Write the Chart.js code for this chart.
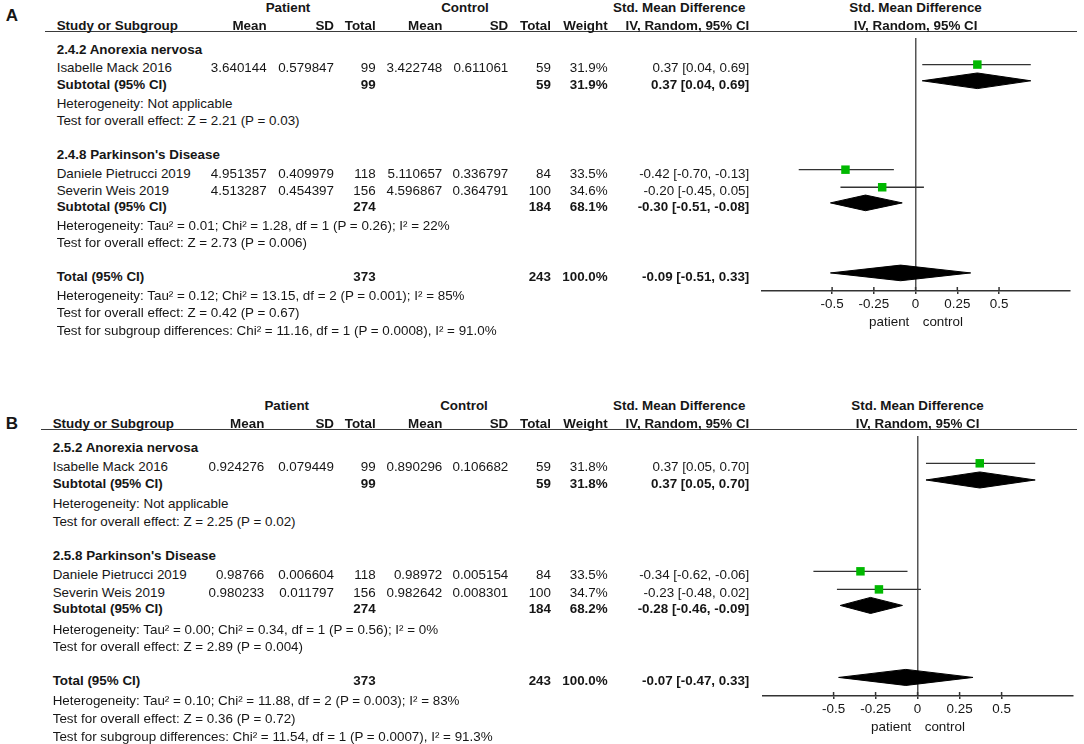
<!DOCTYPE html>
<html>
<head>
<meta charset="utf-8">
<script src="https://cdn.jsdelivr.net/npm/chart.js@4.4.0/dist/chart.umd.min.js"></script>
<style>
  html, body { margin: 0; padding: 0; background: #fff; }
  #page { position: relative; width: 1084px; height: 744px; overflow: hidden;
          font-family: 'Liberation Sans', Arial, sans-serif; color: #161616; }
  .t { position: absolute; white-space: pre; font-size: 13.4px; line-height: 16px; }
  .b { font-weight: bold; }
  .letter { font-size: 17px; font-weight: bold; line-height: 20px; }
  .rule { position: absolute; height: 0; border-top: 1.6px solid #3a3a3a; }
  canvas { position: absolute; }
</style>
</head>
<body>
<div id="page"></div>
<script>
// ---- data ----
var studyNames = ['Isabelle Mack 2016', 'Daniele Pietrucci 2019', 'Severin Weis 2019'];
var patientN = [99, 118, 156];
var controlN = [59, 84, 100];
var subPatientN = [99, 274];
var subControlN = [59, 184];
var totalPatientN = 373;
var totalControlN = 243;
var tickValues = [-0.5, -0.25, 0, 0.25, 0.5];

// panel A
var groupTitlesA = ['2.4.2 Anorexia nervosa', "2.4.8 Parkinson's Disease"];
var patMeanA = [3.640144, 4.951357, 4.513287];
var patSdA = [0.579847, 0.409979, 0.454397];
var ctlMeanA = [3.422748, 5.110657, 4.596867];
var ctlSdA = [0.611061, 0.336797, 0.364791];
var weightA = [31.9, 33.5, 34.6];
var smdA = [0.37, -0.42, -0.20];
var loA = [0.04, -0.70, -0.45];
var hiA = [0.69, -0.13, 0.05];
var subWeightA = [31.9, 68.1];
var subSmdA = [0.37, -0.30];
var subLoA = [0.04, -0.51];
var subHiA = [0.69, -0.08];
var totalA = [-0.09, -0.51, 0.33];
var hetA = ['Heterogeneity: Not applicable',
  'Heterogeneity: Tau² = 0.01; Chi² = 1.28, df = 1 (P = 0.26); I² = 22%',
  'Heterogeneity: Tau² = 0.12; Chi² = 13.15, df = 2 (P = 0.001); I² = 85%'];
var effectA = ['Test for overall effect: Z = 2.21 (P = 0.03)',
  'Test for overall effect: Z = 2.73 (P = 0.006)',
  'Test for overall effect: Z = 0.42 (P = 0.67)'];
var subgroupTestA = 'Test for subgroup differences: Chi² = 11.16, df = 1 (P = 0.0008), I² = 91.0%';

// panel B
var groupTitlesB = ['2.5.2 Anorexia nervosa', "2.5.8 Parkinson's Disease"];
var patMeanB = [0.924276, 0.98766, 0.980233];
var patSdB = [0.079449, 0.006604, 0.011797];
var ctlMeanB = [0.890296, 0.98972, 0.982642];
var ctlSdB = [0.106682, 0.005154, 0.008301];
var weightB = [31.8, 33.5, 34.7];
var smdB = [0.37, -0.34, -0.23];
var loB = [0.05, -0.62, -0.48];
var hiB = [0.70, -0.06, 0.02];
var subWeightB = [31.8, 68.2];
var subSmdB = [0.37, -0.28];
var subLoB = [0.05, -0.46];
var subHiB = [0.70, -0.09];
var totalB = [-0.07, -0.47, 0.33];
var hetB = ['Heterogeneity: Not applicable',
  'Heterogeneity: Tau² = 0.00; Chi² = 0.34, df = 1 (P = 0.56); I² = 0%',
  'Heterogeneity: Tau² = 0.10; Chi² = 11.88, df = 2 (P = 0.003); I² = 83%'];
var effectB = ['Test for overall effect: Z = 2.25 (P = 0.02)',
  'Test for overall effect: Z = 2.89 (P = 0.004)',
  'Test for overall effect: Z = 0.36 (P = 0.72)'];
var subgroupTestB = 'Test for subgroup differences: Chi² = 11.54, df = 1 (P = 0.0007), I² = 91.3%';

// ---- layout (row offsets below the header rule, in panel-A pixels) ----
var rowY = [11.3, 30.7, 47.3, 67, 84.7, 119, 138.3, 156.3, 172.3, 192.3, 209.7, 244, 263.7, 281.3, 299.7];
var groupRow = [0, 5], studyRow = [1, 6, 7], subRow = [2, 8], hetRow = [3, 9, 12], effectRow = [4, 10, 13];
var totalRow = 11, subgroupRow = 14;
var markShift = -3.5, diamondHalf = 8, yMax = 259;

var page = document.getElementById('page');

function put(text, x, y, align, cls) {
  var d = document.createElement('div');
  d.className = 't' + (cls ? ' ' + cls : '');
  d.textContent = text;
  var h = cls === 'letter' ? 20 : 16;
  d.style.top = (y - h / 2) + 'px';
  if (align === 'right') { d.style.left = (x - 500) + 'px'; d.style.width = '500px'; d.style.textAlign = 'right'; }
  else if (align === 'center') { d.style.left = (x - 300) + 'px'; d.style.width = '600px'; d.style.textAlign = 'center'; }
  else { d.style.left = x + 'px'; }
  page.appendChild(d);
}
function ci(e, l, h) { return e.toFixed(2) + ' [' + l.toFixed(2) + ', ' + h.toFixed(2) + ']'; }

// tick marks cross the axis line: the part above it
var tickCross = {
  id: 'tickCross',
  afterDraw: function (chart) {
    var s = chart.scales.x, c = chart.ctx, y = chart.chartArea.bottom;
    c.save();
    c.strokeStyle = '#333';
    c.lineWidth = 1.5;
    s.ticks.forEach(function (t) {
      var px = s.getPixelForValue(t.value);
      c.beginPath(); c.moveTo(px, y - 4); c.lineTo(px, y); c.stroke();
    });
    c.restore();
  }
};

function panel(p) {
  var rule = document.createElement('div');
  rule.className = 'rule';
  rule.style.left = p.ruleLeft + 'px';
  rule.style.width = (1077 - p.ruleLeft) + 'px';
  rule.style.top = (p.top - 0.8) + 'px';
  page.appendChild(rule);

  var cv = document.createElement('canvas');
  cv.width = 344; cv.height = p.plotH + 43;
  cv.style.left = '740px'; cv.style.top = p.top + 'px';
  page.appendChild(cv);

  var datasets = [];
  datasets.push({
    data: p.smd.map(function (v, i) { return { x: v, y: rowY[studyRow[i]] + markShift }; }),
    pointStyle: 'rect', pointRadius: 6, pointHoverRadius: 6,
    backgroundColor: '#00b800', borderWidth: 0
  });
  p.smd.forEach(function (v, i) {
    var r = rowY[studyRow[i]] + markShift;
    datasets.push({
      data: [{ x: p.lo[i], y: r }, { x: p.hi[i], y: r }],
      showLine: true, borderColor: '#333', borderWidth: 1.3, pointRadius: 0
    });
  });
  var dia = [];
  p.subSmd.forEach(function (v, i) { dia.push([v, p.subLo[i], p.subHi[i], rowY[subRow[i]] + markShift]); });
  dia.push([p.total[0], p.total[1], p.total[2], rowY[totalRow] + markShift]);
  dia.forEach(function (d) {
    datasets.push({
      data: [{ x: d[1], y: d[3] }, { x: d[0], y: d[3] - diamondHalf }, { x: d[2], y: d[3] },
             { x: d[0], y: d[3] + diamondHalf }, { x: d[1], y: d[3] }],
      showLine: true, fill: 'shape', backgroundColor: '#000', borderColor: '#000',
      borderWidth: 1, pointRadius: 0, tension: 0
    });
  });

  var chart = new Chart(cv, {
    type: 'scatter',
    data: { datasets: datasets },
    options: {
      responsive: false,
      animation: false,
      layout: { padding: { left: p.padL, right: p.padR, top: 0, bottom: 0 } },
      plugins: { legend: { display: false }, tooltip: { enabled: false } },
      scales: {
        x: {
          type: 'linear', min: -0.92, max: 0.925,
          afterBuildTicks: function (s) { s.ticks = tickValues.map(function (v) { return { value: v }; }); },
          afterFit: function (s) { s.height = 43; },
          ticks: {
            callback: function (v) { return String(v); },
            color: '#161616', padding: 2, maxRotation: 0,
            font: { family: "'Liberation Sans', Arial, sans-serif", size: 13.4 }
          },
          grid: {
            color: function (c) { return c.tick && c.tick.value === 0 ? '#555' : 'rgba(0,0,0,0)'; },
            lineWidth: 1.5, drawTicks: true, tickLength: 3, tickColor: '#333', tickWidth: 1.5
          },
          border: { display: true, color: '#333', width: 1.5 },
          title: {
            display: true, text: 'patient\u2002\u2002control', color: '#161616',
            padding: { top: 0, bottom: 4 },
            font: { family: "'Liberation Sans', Arial, sans-serif", size: 13.4 }
          }
        },
        y: { type: 'linear', min: 0, max: yMax, reverse: true, display: false }
      }
    },
    plugins: [tickCross]
  });

  var ys = chart.scales.y;
  function ry(r) { return p.top + ys.getPixelForValue(rowY[r]) + 0.5; }
  var zeroX = 740 + chart.scales.x.getPixelForValue(0);
  var L = p.cols;

  // headers
  put(p.letter, 12, p.letterY, 'center', 'letter');
  var h1 = p.top - 24.4, h2 = p.top - 6;
  put('Patient', L.patient, h1, 'center', 'b');
  put('Control', L.control, h1, 'center', 'b');
  put('Std. Mean Difference', 745.5, h1, 'right', 'b');
  put('Std. Mean Difference', zeroX, h1, 'center', 'b');
  put('Study or Subgroup', L.label, h2, 'left', 'b');
  put('Mean', L.patMean, h2, 'right', 'b');
  put('SD', 334, h2, 'right', 'b');
  put('Total', 375.7, h2, 'right', 'b');
  put('Mean', 442.3, h2, 'right', 'b');
  put('SD', 508.3, h2, 'right', 'b');
  put('Total', 551, h2, 'right', 'b');
  put('Weight', 607.7, h2, 'right', 'b');
  put('IV, Random, 95% CI', 749.3, h2, 'right', 'b');
  put('IV, Random, 95% CI', zeroX, h2, 'center', 'b');

  // rows
  p.groups.forEach(function (g, i) { put(g, L.label, ry(groupRow[i]), 'left', 'b'); });
  studyNames.forEach(function (n, i) {
    var y = ry(studyRow[i]);
    put(n, L.label, y, 'left');
    put(String(p.patMean[i]), L.patMean, y, 'right');
    put(String(p.patSd[i]), 334, y, 'right');
    put(String(patientN[i]), 375.7, y, 'right');
    put(String(p.ctlMean[i]), 442.3, y, 'right');
    put(String(p.ctlSd[i]), 508.3, y, 'right');
    put(String(controlN[i]), 551, y, 'right');
    put(p.weight[i].toFixed(1) + '%', 607.7, y, 'right');
    put(ci(p.smd[i], p.lo[i], p.hi[i]), 749.3, y, 'right');
  });
  p.subSmd.forEach(function (v, i) {
    var y = ry(subRow[i]);
    put('Subtotal (95% CI)', L.label, y, 'left', 'b');
    put(String(subPatientN[i]), 375.7, y, 'right', 'b');
    put(String(subControlN[i]), 551, y, 'right', 'b');
    put(p.subWeight[i].toFixed(1) + '%', 607.7, y, 'right', 'b');
    put(ci(v, p.subLo[i], p.subHi[i]), 749.3, y, 'right', 'b');
  });
  var ty = ry(totalRow);
  put('Total (95% CI)', L.label, ty, 'left', 'b');
  put(String(totalPatientN), 375.7, ty, 'right', 'b');
  put(String(totalControlN), 551, ty, 'right', 'b');
  put('100.0%', 607.7, ty, 'right', 'b');
  put(ci(p.total[0], p.total[1], p.total[2]), 749.3, ty, 'right', 'b');
  p.het.forEach(function (s, i) { put(s, L.label, ry(hetRow[i]), 'left'); });
  p.effect.forEach(function (s, i) { put(s, L.label, ry(effectRow[i]), 'left'); });
  put(p.subgroupTest, L.label, ry(subgroupRow), 'left');
}

panel({
  letter: 'A', letterY: 16, top: 32, plotH: 259, padL: 22, padR: 14, ruleLeft: 45,
  cols: { label: 56.7, patMean: 266.7, patient: 288, control: 465 },
  groups: groupTitlesA, patMean: patMeanA, patSd: patSdA, ctlMean: ctlMeanA, ctlSd: ctlSdA,
  weight: weightA, smd: smdA, lo: loA, hi: hiA,
  subWeight: subWeightA, subSmd: subSmdA, subLo: subLoA, subHi: subHiA, total: totalA,
  het: hetA, effect: effectA, subgroupTest: subgroupTestA
});
panel({
  letter: 'B', letterY: 424.3, top: 430, plotH: 266, padL: 23, padR: 11, ruleLeft: 41,
  cols: { label: 52.7, patMean: 264.3, patient: 286.7, control: 464 },
  groups: groupTitlesB, patMean: patMeanB, patSd: patSdB, ctlMean: ctlMeanB, ctlSd: ctlSdB,
  weight: weightB, smd: smdB, lo: loB, hi: hiB,
  subWeight: subWeightB, subSmd: subSmdB, subLo: subLoB, subHi: subHiB, total: totalB,
  het: hetB, effect: effectB, subgroupTest: subgroupTestB
});
</script>
</body>
</html>
